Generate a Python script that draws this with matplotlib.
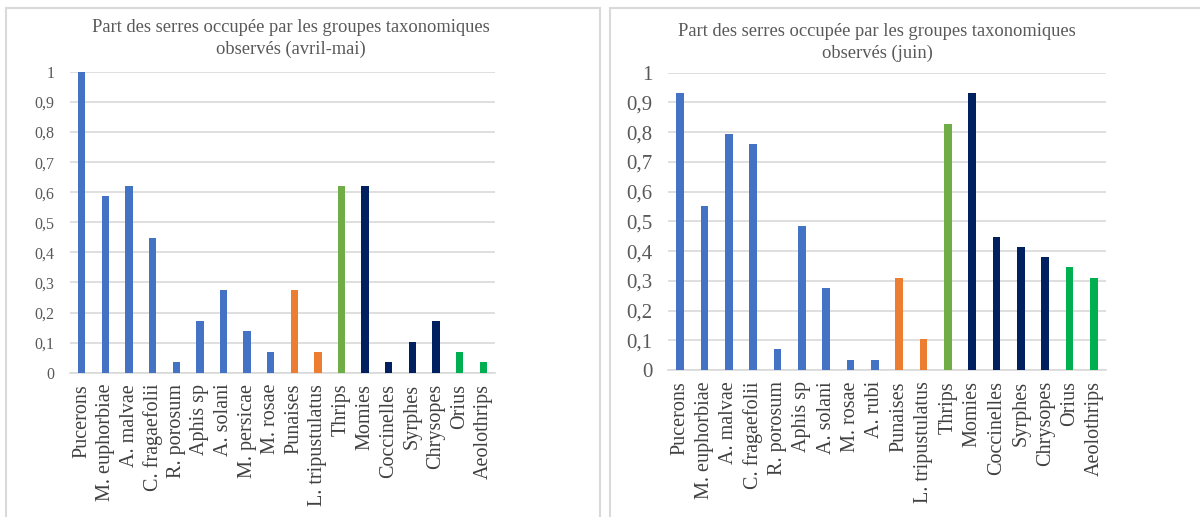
import matplotlib
matplotlib.use("Agg")
import matplotlib.pyplot as plt
from matplotlib.patches import Rectangle

# --- data ---
labels_am = ["Pucerons", "M. euphorbiae", "A. malvae", "C. fragaefolii", "R. porosum",
             "Aphis sp", "A. solani", "M. persicae", "M. rosae", "Punaises",
             "L. tripustulatus", "Thrips", "Momies", "Coccinelles", "Syrphes",
             "Chrysopes", "Orius", "Aeolothrips"]
values_am = [1.0, 0.586, 0.621, 0.448, 0.0345, 0.172, 0.276, 0.138, 0.069, 0.276,
             0.069, 0.621, 0.621, 0.0345, 0.103, 0.172, 0.069, 0.0345]

labels_jn = ["Pucerons", "M. euphorbiae", "A. malvae", "C. fragaefolii", "R. porosum",
             "Aphis sp", "A. solani", "M. rosae", "A. rubi", "Punaises",
             "L. tripustulatus", "Thrips", "Momies", "Coccinelles", "Syrphes",
             "Chrysopes", "Orius", "Aeolothrips"]
values_jn = [0.931, 0.552, 0.793, 0.759, 0.069, 0.483, 0.276, 0.0345, 0.0345, 0.310,
             0.103, 0.828, 0.931, 0.448, 0.414, 0.379, 0.345, 0.310]

# group of each bar (same order in both charts)
groups = ["aphid"] * 9 + ["bug"] * 2 + ["thrips"] + ["enemy"] * 4 + ["pred_thrips"] * 2
COLORS = {"aphid": "#4472C4", "bug": "#ED7D31", "thrips": "#70AD47",
          "enemy": "#002060", "pred_thrips": "#00B050"}

yticks = [0, 0.1, 0.2, 0.3, 0.4, 0.5, 0.6, 0.7, 0.8, 0.9, 1]
ytick_labels = ["0", "0,1", "0,2", "0,3", "0,4", "0,5", "0,6", "0,7", "0,8", "0,9", "1"]

W, H = 1200, 517
plt.rcParams["font.family"] = ["Liberation Serif", "DejaVu Serif"]
fig = plt.figure(figsize=(W / 100, H / 100), dpi=100)

# panel frames
for x0, x1 in [(6, 600), (610, 1205)]:
    fig.patches.append(Rectangle((x0 / W, -0.05), (x1 - x0) / W, 1.05 - 8 / H,
                                 transform=fig.transFigure, fill=False,
                                 edgecolor="#D9D9D9", lw=1.5))

def draw(rect, labels, values, title, tsize, ysize, title_x, title_y):
    l, r, b, t = rect
    ax = fig.add_axes([l / W, (H - b) / H, (r - l) / W, (b - t) / H])
    xs = range(len(labels))
    ax.bar(xs, values, width=0.31, color=[COLORS[g] for g in groups], zorder=3)
    ax.set_xlim(-0.5, len(labels) - 0.5)
    ax.set_ylim(0, 1)
    ax.set_yticks(yticks)
    ax.set_yticklabels(ytick_labels, fontsize=ysize, color="#595959")
    ax.set_xticks(list(xs))
    ax.set_xticklabels(labels, rotation=90, fontsize=14.5, color="#404040")
    ax.tick_params(axis="y", length=0, pad=11)
    ax.tick_params(axis="x", length=0, pad=8)
    ax.yaxis.grid(True, color="#D9D9D9", lw=1.2, zorder=0)
    for s in ["left", "right", "top"]:
        ax.spines[s].set_visible(False)
    ax.spines["bottom"].set_color("#D9D9D9")
    ax.spines["bottom"].set_linewidth(1.2)
    fig.text(title_x / W, 1 - title_y / H, title, ha="center", va="top",
             fontsize=tsize, color="#595959", linespacing=1.35)
    return ax

draw((70, 495, 372.7, 72), labels_am, values_am,
     "Part des serres occupée par les groupes taxonomiques\nobservés (avril-mai)",
     13.3, 11.5, 291, 19)
draw((668, 1106, 370, 72.7), labels_jn, values_jn,
     "Part des serres occupée par les groupes taxonomiques\nobservés (juin)",
     13.3, 15, 877, 23)

fig.savefig("out.png", dpi=100)
